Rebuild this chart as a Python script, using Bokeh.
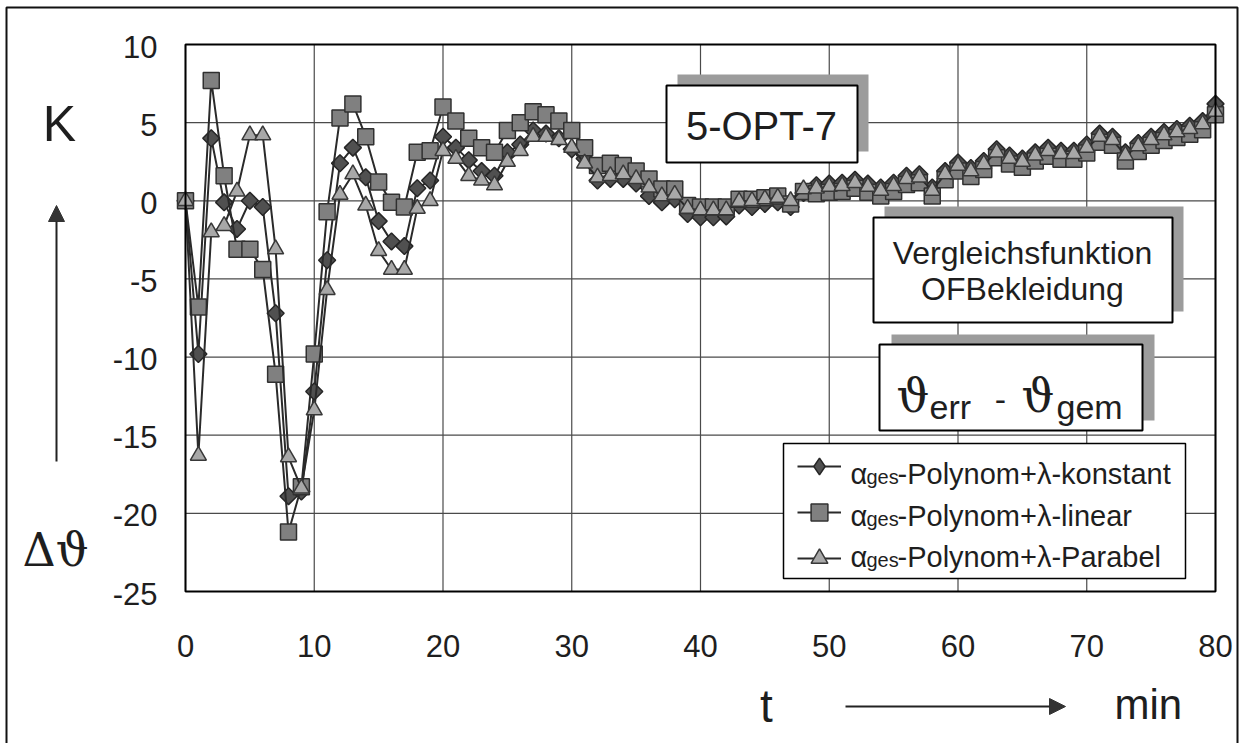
from bokeh.plotting import figure
from bokeh.models import (ColumnDataSource, Range1d, Label, BoxAnnotation, Arrow,
                          NormalHead, Legend, LegendItem)
from bokeh.core.properties import value
from bokeh.embed import file_html
from bokeh.resources import INLINE
import numpy as np

# ---------------- data ----------------
t = list(range(0, 81))
konstant = [0, -9.8, 4.0, -0.1, -1.8, 0.0, -0.4, -7.2, -18.9, -18.6,
            -12.2, -3.8, 2.4, 3.4, 1.5, -1.3, -2.6, -2.9, 0.8, 1.3,
            4.1, 3.4, 2.6, 1.9, 1.6, 3.1, 3.6, 4.5, 4.3, 4.0,
            3.3, 2.7, 1.3, 1.4, 1.4, 1.1, 0.3, -0.1, 0.1, -0.85,
            -1.05, -1.05, -1.0, -0.3, -0.4, -0.2, -0.1, -0.4, 0.5, 1.0,
            1.1, 1.15, 1.35, 1.1, 0.85, 1.15, 1.6, 1.7, 0.85, 1.9,
            2.45, 2.1, 2.55, 3.3, 2.9, 2.7, 3.1, 3.4, 3.2, 3.2,
            3.6, 4.3, 4.1, 3.1, 3.7, 4.1, 4.4, 4.6, 4.8, 5.1,
            6.2]
linear = [0, -6.8, 7.7, 1.6, -3.1, -3.1, -4.4, -11.1, -21.2, -18.3,
          -9.8, -0.7, 5.3, 6.2, 4.1, 1.2, -0.1, -0.4, 3.1, 3.2,
          6.0, 5.1, 4.0, 3.4, 3.1, 4.5, 5.0, 5.7, 5.5, 5.1,
          4.5, 3.4, 2.25, 2.4, 2.25, 1.9, 1.4, 0.75, 0.75, -0.3,
          -0.4, -0.4, -0.4, 0.1, 0.1, 0.2, 0.3, -0.2, 0.6, 0.45,
          0.55, 0.6, 0.8, 0.55, 0.3, 0.6, 1.05, 1.15, 0.3, 1.35,
          1.9, 1.55, 2.0, 2.75, 2.35, 2.15, 2.55, 2.85, 2.65, 2.65,
          3.05, 3.75, 3.55, 2.55, 3.15, 3.55, 3.85, 4.05, 4.25, 4.55,
          5.5]
parabel = [0, -16.3, -2.0, -1.6, 0.6, 4.2, 4.2, -3.1, -16.4, -18.4,
           -13.4, -5.7, 0.4, 1.7, -0.3, -3.2, -4.4, -4.4, -0.5, 0.0,
           3.2, 2.7, 1.6, 1.3, 1.0, 2.5, 3.2, 4.1, 4.1, 3.9,
           3.4, 2.4, 1.5, 1.6, 1.7, 1.4, 0.85, 0.3, 0.4, -0.5,
           -0.6, -0.6, -0.6, -0.05, 0.0, 0.1, 0.2, 0.0, 0.75, 0.8,
           0.9, 0.95, 1.15, 0.9, 0.65, 0.95, 1.4, 1.5, 0.65, 1.7,
           2.25, 1.9, 2.35, 3.1, 2.7, 2.5, 2.9, 3.2, 3.0, 3.0,
           3.4, 4.1, 3.9, 2.9, 3.5, 3.9, 4.2, 4.4, 4.6, 4.9,
           5.7]
x_ticks = [0, 10, 20, 30, 40, 50, 60, 70, 80]
x_tick_labels = ["0", "10", "20", "30", "40", "50", "60", "70", "80"]
y_ticks = [-25, -20, -15, -10, -5, 0, 5, 10]
y_tick_labels = ["-25", "-20", "-15", "-10", "-5", "0", "5", "10"]
series_names = ["-Polynom+\u03bb-konstant", "-Polynom+\u03bb-linear", "-Polynom+\u03bb-Parabel"]

FONT = "Liberation Sans"
TXT = "#1e1e1e"
W, H = 1245, 743

# the plotting area (t = 0..80, dT = -25..10) sits at these canvas pixels;
# the helpers convert canvas pixels to data units for placing annotations.
FL, FR, FT, FB = 185, 1215, 44, 591
def X(px):
    return (px - FL) / (FR - FL) * (x_ticks[-1] - x_ticks[0]) + x_ticks[0]
def Y(py):
    return y_ticks[-1] - (py - FT) / (FB - FT) * (y_ticks[-1] - y_ticks[0])

src = ColumnDataSource(dict(t=t, k=konstant, l=linear, p=parabel))

p = figure(width=W, height=H, min_border=0,
           x_axis_location=None, y_axis_location=None,
           x_range=Range1d(X(0), X(W)), y_range=Range1d(Y(H), Y(0)),
           output_backend="svg", toolbar_location=None)
p.title.visible = False
p.background_fill_color = "white"
p.border_fill_color = "white"
p.outline_line_color = None
p.grid.visible = False

# ---------------- grid, frame and tick labels ----------------
p.segment(x0=x_ticks, x1=x_ticks, y0=y_ticks[0], y1=y_ticks[-1],
          line_color="#4a4a4a", line_width=1.2)
p.segment(x0=x_ticks[0], x1=x_ticks[-1], y0=y_ticks, y1=y_ticks,
          line_color="#4a4a4a", line_width=1.2)

p.text(x=x_ticks, y=y_ticks[0], text=x_tick_labels, y_offset=54,
       text_font=value(FONT), text_font_size="31px", text_color=TXT,
       text_align="center", text_baseline="middle")
p.text(x=x_ticks[0], y=y_ticks, text=y_tick_labels, x_offset=-28, y_offset=2,
       text_font=value(FONT), text_font_size="31px", text_color=TXT,
       text_align="right", text_baseline="middle")

# ---------------- series ----------------
line_col = "#2a2a2a"
rk_l = p.line("t", "k", source=src, line_color=line_col, line_width=2)
rk_m = p.scatter("t", "k", source=src, marker="square", angle=np.pi / 4, size=12,
                 fill_color="#505050", line_color="#262626", line_width=1.5)
rl_l = p.line("t", "l", source=src, line_color=line_col, line_width=2)
rl_m = p.scatter("t", "l", source=src, marker="square", size=16,
                 fill_color="#808080", line_color="#303030", line_width=1.5)
rp_l = p.line("t", "p", source=src, line_color=line_col, line_width=2)
rp_m = p.scatter("t", "p", source=src, marker="triangle", size=16,
                 fill_color="#a8a8a8", line_color="#383838", line_width=1.5)
# hidden diamond renderer, only for the legend swatch
rk_leg = p.scatter("t", "k", source=src, marker="diamond", size=12,
                   fill_color="#505050", line_color="#262626", line_width=1.5,
                   visible=False)

# plot frame
p.add_layout(BoxAnnotation(left=x_ticks[0], right=x_ticks[-1], bottom=y_ticks[0], top=y_ticks[-1],
                           fill_color=None, fill_alpha=0, line_color="black",
                           line_alpha=1, line_width=2))

# ---------------- legend ----------------
p.add_layout(BoxAnnotation(left=X(783), right=X(1185), top=Y(443), bottom=Y(578),
                           fill_color="white", fill_alpha=1, line_color="black",
                           line_alpha=1, line_width=1.5))
legend = Legend(items=[LegendItem(label=" ", renderers=[rk_l, rk_leg]),
                       LegendItem(label=" ", renderers=[rl_l, rl_m]),
                       LegendItem(label=" ", renderers=[rp_l, rp_m])],
                location=(797, H - 579), orientation="vertical",
                glyph_width=44, glyph_height=42, label_height=42,
                label_width=10, label_standoff=0, spacing=4, padding=1,
                margin=0, border_line_color=None, background_fill_alpha=0,
                inactive_fill_alpha=0, label_text_font_size="10px")
p.add_layout(legend, "center")

for name, mid in zip(series_names, [473, 515, 556]):
    p.add_layout(Label(x=X(850), y=Y(mid), text="\u03b1", text_font=FONT,
                       text_font_size="29px", text_color=TXT, level="overlay",
                       text_align="left", text_baseline="middle"))
    p.add_layout(Label(x=X(866), y=Y(mid + 3), text="ges", text_font=FONT,
                       text_font_size="20px", text_color=TXT, level="overlay",
                       text_align="left", text_baseline="middle"))
    p.add_layout(Label(x=X(897), y=Y(mid), text=name, text_font=FONT,
                       text_font_size="29px", text_color=TXT, level="overlay",
                       text_align="left", text_baseline="middle"))

# ---------------- boxes with shadows ----------------
def shadow_box(l, t_, r, b, dx=11, dy=-11):
    p.add_layout(BoxAnnotation(left=X(l + dx), right=X(r + dx), top=Y(t_ + dy), bottom=Y(b + dy),
                               fill_color="#9c9c9c", fill_alpha=1, line_color=None))
    p.add_layout(BoxAnnotation(left=X(l), right=X(r), top=Y(t_), bottom=Y(b),
                               fill_color="white", fill_alpha=1, line_color="black",
                               line_alpha=1, line_width=2))

shadow_box(666, 85, 857, 162)
p.add_layout(Label(x=X(761), y=Y(125), text="5-OPT-7", text_font=FONT,
                   text_font_size="40px", text_color=TXT,
                   text_align="center", text_baseline="middle"))

shadow_box(873, 217, 1172, 322)
p.add_layout(Label(x=X(1022), y=Y(252), text="Vergleichsfunktion", text_font=FONT,
                   text_font_size="32px", text_color=TXT,
                   text_align="center", text_baseline="middle"))
p.add_layout(Label(x=X(1022), y=Y(288), text="OFBekleidung", text_font=FONT,
                   text_font_size="32px", text_color=TXT,
                   text_align="center", text_baseline="middle"))

shadow_box(879, 344, 1142, 430, dx=12, dy=-10)
for txt, xx, yy, fs, fnt, al in [("\u03d1", 896, 395, "46px", "DejaVu Serif", "left"),
                                 ("err", 929, 406, "34px", FONT, "left"),
                                 ("-", 1000, 399, "34px", FONT, "center"),
                                 ("\u03d1", 1021, 395, "46px", "DejaVu Serif", "left"),
                                 ("gem", 1056, 406, "34px", FONT, "left")]:
    p.add_layout(Label(x=X(xx), y=Y(yy), text=txt, text_font=fnt,
                       text_font_size=fs, text_color=TXT,
                       text_align=al, text_baseline="middle"))

# ---------------- axis titles and arrows ----------------
p.add_layout(Label(x=X(59), y=Y(123), text="K", text_font=FONT, text_font_size="50px",
                   text_color=TXT, text_align="center", text_baseline="middle"))
p.add_layout(Label(x=X(55), y=Y(549), text="\u0394\u03d1", text_font="DejaVu Serif",
                   text_font_size="46px", text_color=TXT, text_align="center",
                   text_baseline="middle"))
p.add_layout(Label(x=X(766), y=Y(705), text="t", text_font=FONT, text_font_size="46px",
                   text_color=TXT, text_align="center", text_baseline="middle"))
p.add_layout(Label(x=X(1114), y=Y(704), text="min", text_font=FONT, text_font_size="42px",
                   text_color=TXT, text_align="left", text_baseline="middle"))

p.add_layout(Arrow(x_start=X(56), y_start=Y(461), x_end=X(56), y_end=Y(205),
                   line_color="#222222", line_width=2,
                   end=NormalHead(size=16, fill_color="#333333", line_color="#333333")))
p.add_layout(Arrow(x_start=X(845), y_start=Y(706), x_end=X(1065), y_end=Y(706),
                   line_color="#222222", line_width=2,
                   end=NormalHead(size=16, fill_color="#333333", line_color="#333333")))

# outer frame of the figure (bottom edge lies below the visible page)
p.add_layout(BoxAnnotation(left=X(6), right=X(1237), top=Y(7), bottom=Y(800),
                           fill_color=None, fill_alpha=0, line_color="#111111",
                           line_alpha=1, line_width=2))

open("out.html", "w").write(file_html(p, INLINE))
